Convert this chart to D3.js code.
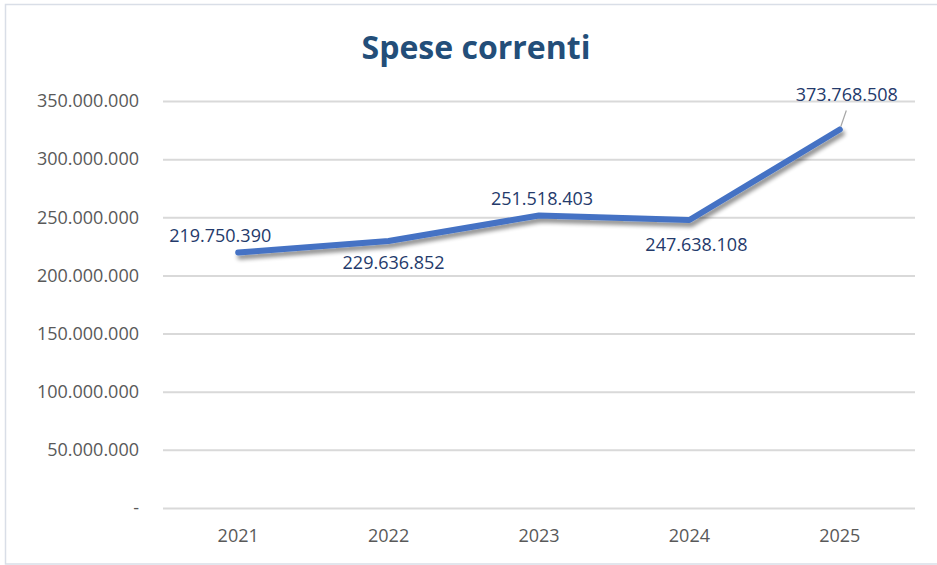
<!DOCTYPE html>
<html><head><meta charset="utf-8">
<script src="https://cdn.jsdelivr.net/npm/d3@7"></script>
<style>body{margin:0;background:#fff;}svg{display:block;font-family:"Open Sans",sans-serif;}</style>
</head><body>
<svg id="chart" width="937" height="565"></svg>
<script>
const title = "Spese correnti";
const years = ["2021", "2022", "2023", "2024", "2025"];
const values = [219750390, 229636852, 251518403, 247638108, 325500000];
const labelTexts = ["219.750.390", "229.636.852", "251.518.403", "247.638.108", "373.768.508"];
const yTicks = [0, 50000000, 100000000, 150000000, 200000000, 250000000, 300000000, 350000000];

const svg = d3.select("#chart");
svg.append("rect").attr("x", 5.5).attr("y", 4.5).attr("width", 940).attr("height", 559.5)
  .attr("fill", "#fff").attr("stroke", "#d9dee7").attr("stroke-width", 1.5);

const defs = svg.append("defs");
const f = defs.append("filter").attr("id", "sh").attr("x", "-10%").attr("y", "-50%").attr("width", "120%").attr("height", "200%");
f.append("feGaussianBlur").attr("in", "SourceAlpha").attr("stdDeviation", 2.2).attr("result", "b");
f.append("feOffset").attr("in", "b").attr("dx", 1.5).attr("dy", 3.5).attr("result", "o");
f.append("feComponentTransfer").attr("in", "o").attr("result", "o2")
  .append("feFuncA").attr("type", "linear").attr("slope", 0.45);
const m = f.append("feMerge");
m.append("feMergeNode").attr("in", "o2");
m.append("feMergeNode").attr("in", "SourceGraphic");

const x = d3.scaleBand().domain(years).range([163, 915]);
const y = d3.scaleLinear().domain([0, 350000000]).range([508, 101]);

const fmt = v => v === 0 ? "-" : d3.format(",")(v).replace(/,/g, ".");

svg.append("text").attr("x", 476).attr("y", 59).attr("text-anchor", "middle")
  .attr("font-size", 32).attr("font-weight", 700).attr("fill", "#234e79").text(title);

const yAxis = d3.axisLeft(y).tickValues(yTicks).tickSize(-(915 - 163)).tickFormat(fmt);
const gy = svg.append("g").attr("transform", "translate(163,0)").call(yAxis);
gy.select(".domain").remove();
gy.selectAll(".tick line").attr("stroke", "#d9d9d9").attr("stroke-width", 2);
gy.selectAll(".tick text").attr("x", -24).attr("font-size", 18).attr("fill", "#595959")
  .attr("font-family", "'Open Sans',sans-serif");

const xAxis = d3.axisBottom(x).tickSize(0);
const gx = svg.append("g").attr("transform", "translate(0,508)").call(xAxis);
gx.select(".domain").remove();
gx.selectAll(".tick text").attr("dy", 0).attr("y", 34).attr("font-size", 18).attr("fill", "#595959")
  .attr("font-family", "'Open Sans',sans-serif");

const cx = d => x(d) + x.bandwidth() / 2;
const line = d3.line().x((d, i) => cx(years[i])).y(d => y(d));
svg.append("path").datum(values).attr("d", line).attr("fill", "none")
  .attr("stroke", "#4472c4").attr("stroke-width", 6).attr("stroke-linejoin", "round")
  .attr("stroke-linecap", "round").attr("filter", "url(#sh)");

// leader line for last label
const li = 4;
svg.append("line").attr("x1", cx(years[li]) + 1).attr("y1", y(values[li]) - 3)
  .attr("x2", cx(years[li]) + 6.5).attr("y2", y(values[li]) - 19)
  .attr("stroke", "#a6a6a6").attr("stroke-width", 1.2);

const labelOffsets = [
  {dx: -18, dy: -10},
  {dx: 5, dy: 28},
  {dx: 3, dy: -11},
  {dx: 7, dy: 31},
  {dx: 7, dy: -28}
];
svg.append("g").selectAll("text").data(values).join("text")
  .attr("x", (d, i) => cx(years[i]) + labelOffsets[i].dx)
  .attr("y", (d, i) => y(d) + labelOffsets[i].dy)
  .attr("text-anchor", "middle").attr("font-size", 18).attr("fill", "#243a6b")
  .text((d, i) => labelTexts[i]);
</script>
</body></html>
